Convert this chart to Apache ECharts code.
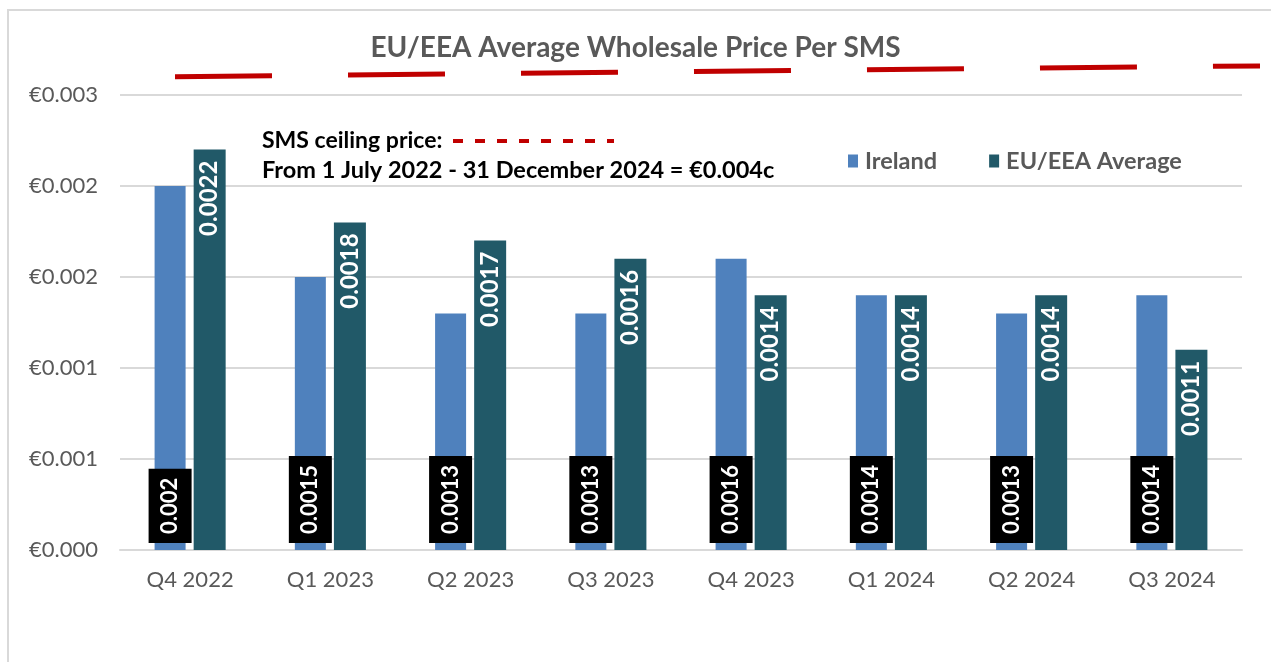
<!DOCTYPE html>
<html>
<head>
<meta charset="utf-8">
<script src="https://cdn.jsdelivr.net/npm/echarts@6/dist/echarts.min.js"></script>
<style>
  html, body { margin: 0; padding: 0; background: #fff; }
  #chart { width: 1271px; height: 662px; }
</style>
</head>
<body>
<div id="chart"></div>
<script>
// quarters on the x axis
const quarters = ['Q4 2022', 'Q1 2023', 'Q2 2023', 'Q3 2023', 'Q4 2023', 'Q1 2024', 'Q2 2024', 'Q3 2024']
// price per SMS, euro
const ireland = [0.002, 0.0015, 0.0013, 0.0013, 0.0016, 0.0014, 0.0013, 0.0014]
const euAverage = [0.0022, 0.0018, 0.0017, 0.0016, 0.0014, 0.0014, 0.0014, 0.0011]
// red ceiling line (start, end) as drawn above the plot
const ceilingLine = [0.00260, 0.00266]
const yTickLabels = ['€0.000', '€0.001', '€0.001', '€0.002', '€0.002', '€0.003']

const font = 'Lato'
const grey = '#595959'

const option = {
  animation: false,
  textStyle: { fontFamily: font },
  title: {
    text: 'EU/EEA Average Wholesale Price Per SMS',
    left: 'center',
    top: 29,
    textStyle: { fontFamily: font, fontSize: 28, fontWeight: 'bold', color: grey }
  },
  legend: {
    data: ['Ireland', 'EU/EEA Average'],
    left: 843,
    top: 144,
    itemWidth: 10,
    itemHeight: 13,
    itemGap: 52,
    icon: 'rect',
    textStyle: { fontFamily: font, fontSize: 23.5, fontWeight: 'bold', color: grey, padding: [0, 0, 0, 2] }
  },
  grid: [
    { left: 120, right: 29, top: 95, bottom: 112 },
    { left: 175, right: 11, top: 95, bottom: 112 }
  ],
  xAxis: [
    {
      type: 'category',
      data: quarters,
      axisTick: { show: false },
      axisLine: { lineStyle: { color: '#d9d9d9', width: 2 } },
      axisLabel: { color: grey, fontSize: 22, margin: 19, fontFamily: font }
    },
    {
      type: 'category',
      gridIndex: 1,
      data: ['start', 'end'],
      boundaryGap: false,
      show: false
    }
  ],
  yAxis: [
    {
      type: 'value',
      min: 0,
      max: 0.0025,
      interval: 0.0005,
      axisLine: { show: false },
      axisTick: { show: false },
      splitLine: { lineStyle: { color: '#d9d9d9', width: 2 } },
      axisLabel: {
        color: grey,
        fontSize: 22,
        margin: 22,
        fontFamily: font,
        formatter: (v, i) => yTickLabels[i]
      }
    },
    {
      type: 'value',
      gridIndex: 1,
      min: 0,
      max: 0.0025,
      show: false
    }
  ],
  graphic: [
    {
      type: 'rect',
      shape: { x: 8, y: 10, width: 1300, height: 700 },
      style: { fill: 'none', stroke: '#d9d9d9', lineWidth: 2 },
      silent: true
    },
    {
      type: 'text',
      left: 262,
      top: 129,
      style: { text: 'SMS ceiling price:', fill: '#000', font: 'bold 23px Lato' }
    },
    {
      type: 'line',
      shape: { x1: 453, y1: 141, x2: 614, y2: 141 },
      style: { stroke: '#c00000', lineWidth: 4, lineDash: [10, 12] }
    },
    {
      type: 'text',
      left: 262,
      top: 158,
      style: { text: 'From 1 July 2022 - 31 December 2024 = €0.004c', fill: '#000', font: 'bold 23.5px Lato' }
    }
  ],
  series: [
    {
      name: 'Ireland',
      type: 'bar',
      data: ireland,
      barWidth: 31,
      barGap: '26%',
      color: '#4f81bd',
      label: {
        show: true,
        position: 'insideBottom',
        distance: 7,
        rotate: 90,
        align: 'left',
        verticalAlign: 'middle',
        color: '#fff',
        fontSize: 22,
        lineHeight: 22,
        fontWeight: 'bold',
        fontFamily: font,
        backgroundColor: '#000',
        padding: [11, 9, 10, 9]
      }
    },
    {
      name: 'EU/EEA Average',
      type: 'bar',
      data: euAverage,
      barWidth: 32,
      color: '#215968',
      label: {
        show: true,
        position: 'insideTop',
        distance: 11,
        rotate: 90,
        align: 'right',
        verticalAlign: 'middle',
        color: '#fff',
        fontSize: 24,
        fontWeight: 'bold',
        fontFamily: font
      }
    },
    {
      name: 'ceiling',
      type: 'line',
      xAxisIndex: 1,
      yAxisIndex: 1,
      data: ceilingLine,
      clip: false,
      symbol: 'none',
      silent: true,
      lineStyle: { color: '#c00000', width: 5, type: [97, 76], cap: 'butt' }
    }
  ]
}

const chartDom = document.getElementById('chart')
const myChart = echarts.init(chartDom)
option && myChart.setOption(option)
</script>
</body>
</html>
